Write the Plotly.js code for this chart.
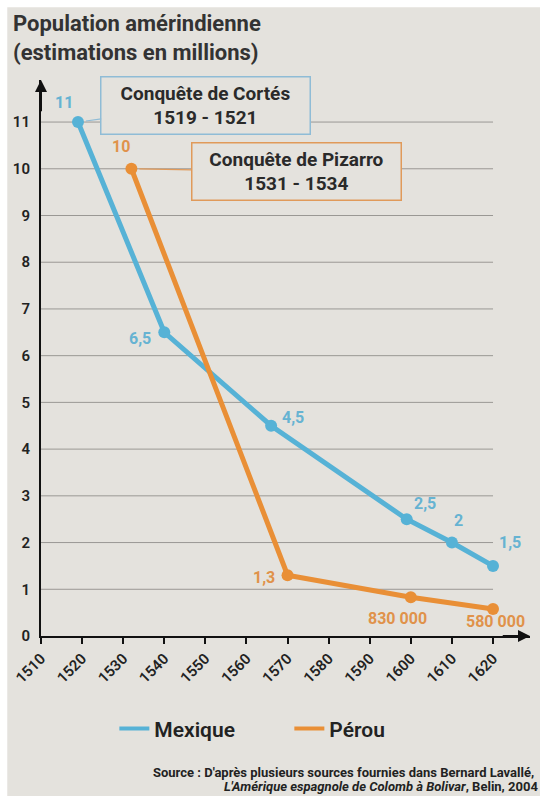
<!DOCTYPE html>
<html>
<head>
<meta charset="utf-8">
<script src="https://cdn.plot.ly/plotly-3.0.1.min.js"></script>
<style>html,body{margin:0;padding:0;background:#fff;}#chart{width:540px;height:796px;}</style>
</head>
<body>
<div id="chart"></div>
<script>
// ---- data ----
const mexiqueYears = [1519, 1540, 1566, 1599, 1610, 1620];
const mexiqueValues = [11, 6.5, 4.5, 2.5, 2, 1.5];
const mexiqueLabels = ["11", "6,5", "4,5", "2,5", "2", "1,5"];
const perouYears = [1532, 1570, 1600, 1620];
const perouValues = [10, 1.3, 0.83, 0.58];
const perouLabels = ["10", "1,3", "830 000", "580 000"];
const xTicks = [1510, 1520, 1530, 1540, 1550, 1560, 1570, 1580, 1590, 1600, 1610, 1620];
const yTicks = [0, 1, 2, 3, 4, 5, 6, 7, 8, 9, 10, 11];

// ---- styles ----
const BLUE = "#56b2d6", BLUE_TXT = "#66b3d2", BLUE_BOX = "#8fbcd6";
const ORANGE = "#e98f36", ORANGE_TXT = "#e0924a", ORANGE_BOX = "#e09a5a";
const PAPER = "#e4e2dd";
const FONT = "Roboto, 'DejaVu Sans', sans-serif";
const mexShift = [[-14, 20], [-24, -6], [22, 8], [18, 16], [7, 22], [17, 23]];
const perShift = [[-10, 22], [-24, -2], [-13, -21], [2, -13]];

const traces = [
  {x: mexiqueYears, y: mexiqueValues, name: "Mexique", type: "scatter", mode: "lines+markers", showlegend: false,
   line: {color: BLUE, width: 5}, marker: {color: BLUE, size: 12}},
  {x: perouYears, y: perouValues, name: "Pérou", type: "scatter", mode: "lines+markers", showlegend: false,
   line: {color: ORANGE, width: 5}, marker: {color: ORANGE, size: 12}},
  {x: [null], y: [null], name: "Mexique", type: "scatter", mode: "lines", line: {color: BLUE, width: 4}},
  {x: [null], y: [null], name: "Pérou", type: "scatter", mode: "lines", line: {color: ORANGE, width: 4}}
];

const annotations = [];
mexiqueYears.forEach((yr, i) => annotations.push({x: yr, y: mexiqueValues[i], text: "<b>" + mexiqueLabels[i] + "</b>",
  showarrow: false, xshift: mexShift[i][0], yshift: mexShift[i][1], font: {family: FONT, size: 16, color: BLUE_TXT}}));
perouYears.forEach((yr, i) => annotations.push({x: yr, y: perouValues[i], text: "<b>" + perouLabels[i] + "</b>",
  showarrow: false, xshift: perShift[i][0], yshift: perShift[i][1], font: {family: FONT, size: 16, color: ORANGE_TXT}}));

// callouts
annotations.push({x: mexiqueYears[0], y: mexiqueValues[0], ax: 128, ay: -17, showarrow: true, arrowhead: 0,
  arrowwidth: 1.2, arrowcolor: BLUE_BOX, standoff: 8,
  text: "<b>Conquête de Cortés</b><br><b>1519 - 1521</b>", font: {family: FONT, size: 19, color: "#2a2a2a"},
  bordercolor: BLUE_BOX, borderwidth: 1.5, bgcolor: PAPER, width: 204, height: 52, borderpad: 2});
annotations.push({x: perouYears[0], y: perouValues[0], ax: 165, ay: 3, showarrow: true, arrowhead: 0,
  arrowwidth: 1.2, arrowcolor: ORANGE_BOX, standoff: 8,
  text: "<b>Conquête de Pizarro</b><br><b>1531 - 1534</b>", font: {family: FONT, size: 19, color: "#2a2a2a"},
  bordercolor: ORANGE_BOX, borderwidth: 1.5, bgcolor: PAPER, width: 204, height: 52, borderpad: 2});

// axis arrows
annotations.push({x: 1510, y: 11.9, ax: 1510, ay: 11.2, axref: "x", ayref: "y", showarrow: true, arrowhead: 2,
  arrowsize: 1.2, arrowwidth: 2, arrowcolor: "#111", text: ""});
annotations.push({x: 1629, y: 0, ax: 1622, ay: 0, axref: "x", ayref: "y", showarrow: true, arrowhead: 2,
  arrowsize: 1.2, arrowwidth: 2, arrowcolor: "#111", text: ""});

// title & source
annotations.push({xref: "paper", yref: "paper", x: -0.062, y: 1.128, xanchor: "left", yanchor: "top", align: "left",
  showarrow: false, text: "<b>Population amérindienne</b><br><b>(estimations en millions)</b>",
  font: {family: FONT, size: 22, color: "#333"}});
annotations.push({xref: "paper", yref: "paper", x: 0.225, y: -0.245, xanchor: "left", yanchor: "middle", align: "left",
  showarrow: false, text: "<b>Source : D'après plusieurs sources fournies dans Bernard Lavallé,</b>",
  font: {family: FONT, size: 13, color: "#222"}});
annotations.push({xref: "paper", yref: "paper", x: 0.37, y: -0.27, xanchor: "left", yanchor: "middle", align: "left",
  showarrow: false, text: "<b><i>L'Amérique espagnole de Colomb à Bolivar</i>, Belin, 2004</b>",
  font: {family: FONT, size: 13, color: "#222"}});

const shapes = [{type: "rect", xref: "paper", yref: "paper", x0: -0.069, x1: 1.1, y0: -0.4, y1: 1.131,
  fillcolor: PAPER, line: {width: 0}, layer: "below"}];
yTicks.slice(1).forEach(v => shapes.push({type: "line", xref: "x", yref: "y", x0: xTicks[0], x1: xTicks[xTicks.length - 1],
  y0: v, y1: v, line: {color: "#9a9894", width: 1}, layer: "below"}));

const layout = {
  width: 540, height: 796,
  margin: {l: 41, r: 10, t: 80, b: 160},
  paper_bgcolor: "#ffffff", plot_bgcolor: "rgba(0,0,0,0)",
  font: {family: FONT, color: "#222"},
  showlegend: true,
  legend: {orientation: "h", x: 0.15, y: -0.167, xanchor: "left", yanchor: "middle",
    font: {family: FONT, size: 21, color: "#222", weight: 600}, bgcolor: "rgba(0,0,0,0)",
    entrywidth: 130, entrywidthmode: "pixels", tracegroupgap: 0},
  xaxis: {range: [1510, 1629], tickvals: xTicks, ticktext: xTicks.map(String), tickangle: -45,
    showgrid: false, zeroline: false, showline: true, linecolor: "#111", linewidth: 2,
    ticks: "outside", ticklen: 6, tickwidth: 2, tickcolor: "#111",
    tickfont: {family: FONT, size: 15, color: "#222", weight: 600}},
  yaxis: {range: [0, 11.9], tickvals: yTicks, ticktext: yTicks.map(String),
    showgrid: false, zeroline: false, showline: true, linecolor: "#111", linewidth: 2,
    ticks: "", ticklabelstandoff: 6,
    tickfont: {family: FONT, size: 15, color: "#222", weight: 600}},
  annotations: annotations, shapes: shapes
};

Plotly.newPlot("chart", traces, layout, {displayModeBar: false, staticPlot: true});
</script>
</body>
</html>
